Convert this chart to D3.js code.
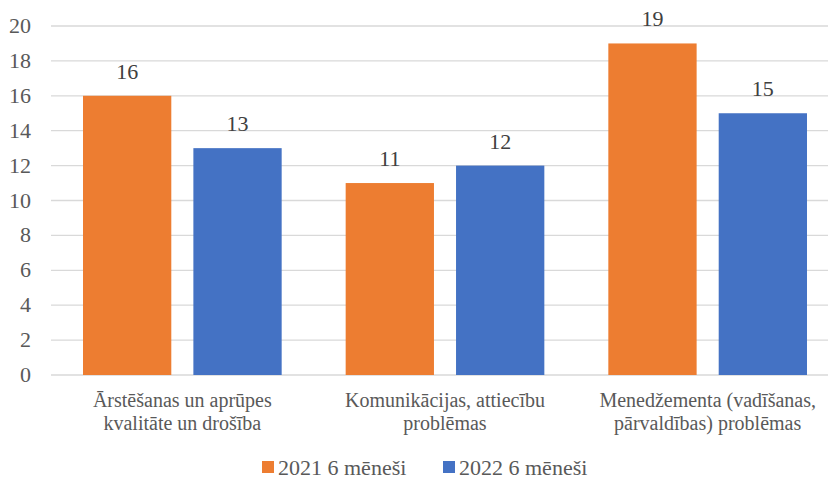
<!DOCTYPE html>
<html>
<head>
<meta charset="utf-8">
<script src="https://cdn.jsdelivr.net/npm/d3@7"></script>
<style>
  body { margin: 0; background: #fff; }
</style>
</head>
<body>
<div id="chart"></div>
<script>
const categories = [
  ["Ārstēšanas un aprūpes", "kvalitāte un drošība"],
  ["Komunikācijas, attiecību", "problēmas"],
  ["Menedžementa (vadīšanas,", "pārvaldības) problēmas"]
];
const seriesNames = ["2021 6 mēneši", "2022 6 mēneši"];
const values2021 = [16, 11, 19];
const values2022 = [13, 12, 15];
const yTicks = [0, 2, 4, 6, 8, 10, 12, 14, 16, 18, 20];
const colors = ["#ED7D31", "#4472C4"];

const width = 828, height = 485;
const svg = d3.select('#chart').append('svg').attr('width', width).attr('height', height);

const x0 = d3.scaleBand().domain(d3.range(categories.length)).range([51, 839]).paddingInner(0).paddingOuter(0);
const x1 = d3.scaleBand().domain([0, 1]).range([32, x0.bandwidth() - 32]).paddingInner(0.2);
const y = d3.scaleLinear().domain([0, 20]).range([375, 26]);

const st = size => `font-family:'Liberation Serif';font-size:${size}px`;

// gridlines
svg.append('g').selectAll('line').data(yTicks).enter().append('line')
  .attr('x1', 51).attr('x2', 839)
  .attr('y1', d => y(d)).attr('y2', d => y(d))
  .attr('stroke', '#d9d9d9').attr('stroke-width', 1.3);

// y labels
svg.append('g').selectAll('text').data(yTicks).enter().append('text')
  .attr('x', 31).attr('y', d => y(d) + 7)
  .attr('text-anchor', 'end').attr('style', st(22)).attr('fill', '#595959')
  .text(d => d);

const data = categories.map((c, i) => [values2021[i], values2022[i]]);

const groups = svg.append('g').selectAll('g').data(data).enter().append('g')
  .attr('transform', (d, i) => `translate(${x0(i)},0)`);

groups.selectAll('rect').data(d => d).enter().append('rect')
  .attr('x', (d, j) => x1(j)).attr('width', x1.bandwidth())
  .attr('y', d => y(d)).attr('height', d => y(0) - y(d))
  .attr('fill', (d, j) => colors[j]);

groups.selectAll('text.val').data(d => d).enter().append('text')
  .attr('class', 'val')
  .attr('x', (d, j) => x1(j) + x1.bandwidth() / 2).attr('y', d => y(d) - 17)
  .attr('text-anchor', 'middle').attr('style', st(22)).attr('fill', '#404040')
  .text(d => d);

// category labels, two lines each
categories.forEach((lines, i) => {
  lines.forEach((line, k) => {
    svg.append('text')
      .attr('x', x0(i) + x0.bandwidth() / 2).attr('y', 407 + k * 23)
      .attr('text-anchor', 'middle').attr('style', st(20)).attr('fill', '#595959')
      .text(line);
  });
});

// legend
const legX = [262, 443];
seriesNames.forEach((name, i) => {
  svg.append('rect').attr('x', legX[i]).attr('y', 461).attr('width', 12).attr('height', 12).attr('fill', colors[i]);
  svg.append('text').attr('x', legX[i] + 16).attr('y', 475)
    .attr('style', st(22)).attr('fill', '#595959').text(name);
});
</script>
</body>
</html>
